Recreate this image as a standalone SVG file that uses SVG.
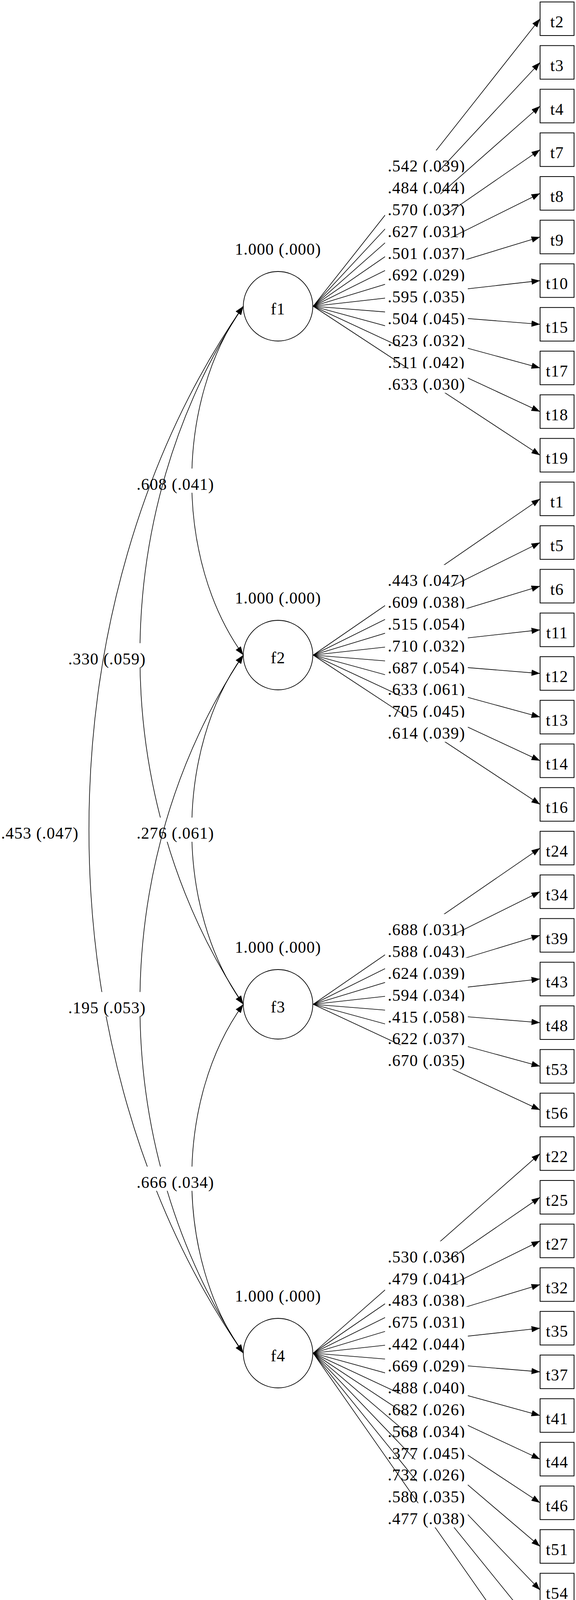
<svg xmlns="http://www.w3.org/2000/svg" width="1475" height="4342" viewBox="0 0 1475 4342">
<defs>
<marker id="ah" markerUnits="userSpaceOnUse" viewBox="0 0 22 16" markerWidth="22" markerHeight="16" refX="22" refY="8" orient="auto-start-reverse"><path d="M0,0 L22,8 L0,16 z" fill="#000"/></marker>
<style>
text{font-family:"Liberation Serif","Times New Roman",serif;font-size:42px;letter-spacing:1.2px;fill:#000;text-anchor:middle}
.e{stroke:#000;stroke-width:1.6;fill:none;marker-end:url(#ah)}
.c{stroke:#000;stroke-width:1.6;fill:none;marker-start:url(#ah);marker-end:url(#ah)}
.lb{fill:#fff;stroke:none}
.bx{fill:#fff;stroke:#000;stroke-width:2}
.nd{fill:#fff;stroke:#000;stroke-width:1.8}
</style>
</defs>
<rect width="1475" height="4342" fill="#fff"/>
<g id="connectors">
<line class="e" x1="802" y1="784" x2="1383" y2="48.0"/><rect class="lb" x="986" y="385.0" width="212" height="62"/><text x="1092" y="439.0">.542 (.039)</text>
<line class="e" x1="802" y1="784" x2="1383" y2="159.7"/><rect class="lb" x="986" y="440.9" width="212" height="62"/><text x="1092" y="494.9">.484 (.044)</text>
<line class="e" x1="802" y1="784" x2="1383" y2="271.5"/><rect class="lb" x="986" y="496.7" width="212" height="62"/><text x="1092" y="550.7">.570 (.037)</text>
<line class="e" x1="802" y1="784" x2="1383" y2="383.2"/><rect class="lb" x="986" y="552.6" width="212" height="62"/><text x="1092" y="606.6">.627 (.031)</text>
<line class="e" x1="802" y1="784" x2="1383" y2="495.0"/><rect class="lb" x="986" y="608.5" width="212" height="62"/><text x="1092" y="662.5">.501 (.037)</text>
<line class="e" x1="802" y1="784" x2="1383" y2="606.7"/><rect class="lb" x="986" y="664.4" width="212" height="62"/><text x="1092" y="718.4">.692 (.029)</text>
<line class="e" x1="802" y1="784" x2="1383" y2="718.4"/><rect class="lb" x="986" y="720.2" width="212" height="62"/><text x="1092" y="774.2">.595 (.035)</text>
<line class="e" x1="802" y1="784" x2="1383" y2="830.2"/><rect class="lb" x="986" y="776.1" width="212" height="62"/><text x="1092" y="830.1">.504 (.045)</text>
<line class="e" x1="802" y1="784" x2="1383" y2="941.9"/><rect class="lb" x="986" y="832.0" width="212" height="62"/><text x="1092" y="886.0">.623 (.032)</text>
<line class="e" x1="802" y1="784" x2="1383" y2="1053.7"/><rect class="lb" x="986" y="887.8" width="212" height="62"/><text x="1092" y="941.8">.511 (.042)</text>
<line class="e" x1="802" y1="784" x2="1383" y2="1165.4"/><rect class="lb" x="986" y="943.7" width="212" height="62"/><text x="1092" y="997.7">.633 (.030)</text>

<line class="e" x1="802" y1="1677" x2="1383" y2="1277.1"/><rect class="lb" x="986" y="1446.1" width="212" height="62"/><text x="1092" y="1500.1">.443 (.047)</text>
<line class="e" x1="802" y1="1677" x2="1383" y2="1388.9"/><rect class="lb" x="986" y="1501.9" width="212" height="62"/><text x="1092" y="1555.9">.609 (.038)</text>
<line class="e" x1="802" y1="1677" x2="1383" y2="1500.6"/><rect class="lb" x="986" y="1557.8" width="212" height="62"/><text x="1092" y="1611.8">.515 (.054)</text>
<line class="e" x1="802" y1="1677" x2="1383" y2="1612.4"/><rect class="lb" x="986" y="1613.7" width="212" height="62"/><text x="1092" y="1667.7">.710 (.032)</text>
<line class="e" x1="802" y1="1677" x2="1383" y2="1724.1"/><rect class="lb" x="986" y="1669.6" width="212" height="62"/><text x="1092" y="1723.6">.687 (.054)</text>
<line class="e" x1="802" y1="1677" x2="1383" y2="1835.8"/><rect class="lb" x="986" y="1725.4" width="212" height="62"/><text x="1092" y="1779.4">.633 (.061)</text>
<line class="e" x1="802" y1="1677" x2="1383" y2="1947.6"/><rect class="lb" x="986" y="1781.3" width="212" height="62"/><text x="1092" y="1835.3">.705 (.045)</text>
<line class="e" x1="802" y1="1677" x2="1383" y2="2059.3"/><rect class="lb" x="986" y="1837.2" width="212" height="62"/><text x="1092" y="1891.2">.614 (.039)</text>

<line class="e" x1="802" y1="2571" x2="1383" y2="2171.1"/><rect class="lb" x="986" y="2340.0" width="212" height="62"/><text x="1092" y="2394.0">.688 (.031)</text>
<line class="e" x1="802" y1="2571" x2="1383" y2="2282.8"/><rect class="lb" x="986" y="2395.9" width="212" height="62"/><text x="1092" y="2449.9">.588 (.043)</text>
<line class="e" x1="802" y1="2571" x2="1383" y2="2394.5"/><rect class="lb" x="986" y="2451.8" width="212" height="62"/><text x="1092" y="2505.8">.624 (.039)</text>
<line class="e" x1="802" y1="2571" x2="1383" y2="2506.3"/><rect class="lb" x="986" y="2507.6" width="212" height="62"/><text x="1092" y="2561.6">.594 (.034)</text>
<line class="e" x1="802" y1="2571" x2="1383" y2="2618.0"/><rect class="lb" x="986" y="2563.5" width="212" height="62"/><text x="1092" y="2617.5">.415 (.058)</text>
<line class="e" x1="802" y1="2571" x2="1383" y2="2729.8"/><rect class="lb" x="986" y="2619.4" width="212" height="62"/><text x="1092" y="2673.4">.622 (.037)</text>
<line class="e" x1="802" y1="2571" x2="1383" y2="2841.5"/><rect class="lb" x="986" y="2675.3" width="212" height="62"/><text x="1092" y="2729.3">.670 (.035)</text>

<line class="e" x1="802" y1="3464" x2="1383" y2="2953.2"/><rect class="lb" x="986" y="3177.6" width="212" height="62"/><text x="1092" y="3231.6">.530 (.036)</text>
<line class="e" x1="802" y1="3464" x2="1383" y2="3065.0"/><rect class="lb" x="986" y="3233.5" width="212" height="62"/><text x="1092" y="3287.5">.479 (.041)</text>
<line class="e" x1="802" y1="3464" x2="1383" y2="3176.7"/><rect class="lb" x="986" y="3289.4" width="212" height="62"/><text x="1092" y="3343.4">.483 (.038)</text>
<line class="e" x1="802" y1="3464" x2="1383" y2="3288.5"/><rect class="lb" x="986" y="3345.2" width="212" height="62"/><text x="1092" y="3399.2">.675 (.031)</text>
<line class="e" x1="802" y1="3464" x2="1383" y2="3400.2"/><rect class="lb" x="986" y="3401.1" width="212" height="62"/><text x="1092" y="3455.1">.442 (.044)</text>
<line class="e" x1="802" y1="3464" x2="1383" y2="3511.9"/><rect class="lb" x="986" y="3457.0" width="212" height="62"/><text x="1092" y="3511.0">.669 (.029)</text>
<line class="e" x1="802" y1="3464" x2="1383" y2="3623.7"/><rect class="lb" x="986" y="3512.8" width="212" height="62"/><text x="1092" y="3566.8">.488 (.040)</text>
<line class="e" x1="802" y1="3464" x2="1383" y2="3735.4"/><rect class="lb" x="986" y="3568.7" width="212" height="62"/><text x="1092" y="3622.7">.682 (.026)</text>
<line class="e" x1="802" y1="3464" x2="1383" y2="3847.2"/><rect class="lb" x="986" y="3624.6" width="212" height="62"/><text x="1092" y="3678.6">.568 (.034)</text>
<line class="e" x1="802" y1="3464" x2="1383" y2="3958.9"/><rect class="lb" x="986" y="3680.5" width="212" height="62"/><text x="1092" y="3734.5">.377 (.045)</text>
<line class="e" x1="802" y1="3464" x2="1383" y2="4070.6"/><rect class="lb" x="986" y="3736.3" width="212" height="62"/><text x="1092" y="3790.3">.732 (.026)</text>
<line class="e" x1="802" y1="3464" x2="1383" y2="4182.4"/><rect class="lb" x="986" y="3792.2" width="212" height="62"/><text x="1092" y="3846.2">.580 (.035)</text>
<line class="e" x1="802" y1="3464" x2="1383" y2="4294.1"/><rect class="lb" x="986" y="3848.1" width="212" height="62"/><text x="1092" y="3902.1">.477 (.038)</text>

<path class="c" d="M623,784 C447,1027 447,1434 623,1677"/><rect class="lb" x="343" y="1199.5" width="212" height="62"/><text x="449" y="1253.5">.608 (.041)</text>
<path class="c" d="M623,784 C270,1313 270,2042 623,2571"/><rect class="lb" x="168" y="1646.5" width="212" height="62"/><text x="274" y="1700.5">.330 (.059)</text>
<path class="c" d="M623,784 C96,1543 96,2705 623,3464"/><rect class="lb" x="0" y="2093" width="208" height="62"/><text x="102" y="2147">.453 (.047)</text>
<path class="c" d="M623,1677 C447,1920 447,2328 623,2571"/><rect class="lb" x="343" y="2093" width="212" height="62"/><text x="449" y="2147">.276 (.061)</text>
<path class="c" d="M623,1677 C270,2206 270,2935 623,3464"/><rect class="lb" x="168" y="2539.5" width="212" height="62"/><text x="274" y="2593.5">.195 (.053)</text>
<path class="c" d="M623,2571 C447,2814 447,3221 623,3464"/><rect class="lb" x="343" y="2986.5" width="212" height="62"/><text x="449" y="3040.5">.666 (.034)</text>
</g>
<g id="f1"><circle class="nd" cx="712" cy="784" r="89"/><text x="712" y="805">f1</text><text x="712" y="652">1.000 (.000)</text></g>
<g id="f2"><circle class="nd" cx="712" cy="1677" r="89"/><text x="712" y="1698">f2</text><text x="712" y="1545">1.000 (.000)</text></g>
<g id="f3"><circle class="nd" cx="712" cy="2571" r="89"/><text x="712" y="2592">f3</text><text x="712" y="2439">1.000 (.000)</text></g>
<g id="f4"><circle class="nd" cx="712" cy="3464" r="89"/><text x="712" y="3485">f4</text><text x="712" y="3332">1.000 (.000)</text></g>
<g id="t2"><rect class="bx" x="1383" y="5.0" width="87" height="86"/><text x="1426.5" y="70.0">t2</text></g>
<g id="t3"><rect class="bx" x="1383" y="116.7" width="87" height="86"/><text x="1426.5" y="181.7">t3</text></g>
<g id="t4"><rect class="bx" x="1383" y="228.5" width="87" height="86"/><text x="1426.5" y="293.5">t4</text></g>
<g id="t7"><rect class="bx" x="1383" y="340.2" width="87" height="86"/><text x="1426.5" y="405.2">t7</text></g>
<g id="t8"><rect class="bx" x="1383" y="452.0" width="87" height="86"/><text x="1426.5" y="517.0">t8</text></g>
<g id="t9"><rect class="bx" x="1383" y="563.7" width="87" height="86"/><text x="1426.5" y="628.7">t9</text></g>
<g id="t10"><rect class="bx" x="1383" y="675.4" width="87" height="86"/><text x="1426.5" y="740.4">t10</text></g>
<g id="t15"><rect class="bx" x="1383" y="787.2" width="87" height="86"/><text x="1426.5" y="852.2">t15</text></g>
<g id="t17"><rect class="bx" x="1383" y="898.9" width="87" height="86"/><text x="1426.5" y="963.9">t17</text></g>
<g id="t18"><rect class="bx" x="1383" y="1010.7" width="87" height="86"/><text x="1426.5" y="1075.7">t18</text></g>
<g id="t19"><rect class="bx" x="1383" y="1122.4" width="87" height="86"/><text x="1426.5" y="1187.4">t19</text></g>
<g id="t1"><rect class="bx" x="1383" y="1234.1" width="87" height="86"/><text x="1426.5" y="1299.1">t1</text></g>
<g id="t5"><rect class="bx" x="1383" y="1345.9" width="87" height="86"/><text x="1426.5" y="1410.9">t5</text></g>
<g id="t6"><rect class="bx" x="1383" y="1457.6" width="87" height="86"/><text x="1426.5" y="1522.6">t6</text></g>
<g id="t11"><rect class="bx" x="1383" y="1569.4" width="87" height="86"/><text x="1426.5" y="1634.4">t11</text></g>
<g id="t12"><rect class="bx" x="1383" y="1681.1" width="87" height="86"/><text x="1426.5" y="1746.1">t12</text></g>
<g id="t13"><rect class="bx" x="1383" y="1792.8" width="87" height="86"/><text x="1426.5" y="1857.8">t13</text></g>
<g id="t14"><rect class="bx" x="1383" y="1904.6" width="87" height="86"/><text x="1426.5" y="1969.6">t14</text></g>
<g id="t16"><rect class="bx" x="1383" y="2016.3" width="87" height="86"/><text x="1426.5" y="2081.3">t16</text></g>
<g id="t24"><rect class="bx" x="1383" y="2128.1" width="87" height="86"/><text x="1426.5" y="2193.1">t24</text></g>
<g id="t34"><rect class="bx" x="1383" y="2239.8" width="87" height="86"/><text x="1426.5" y="2304.8">t34</text></g>
<g id="t39"><rect class="bx" x="1383" y="2351.5" width="87" height="86"/><text x="1426.5" y="2416.5">t39</text></g>
<g id="t43"><rect class="bx" x="1383" y="2463.3" width="87" height="86"/><text x="1426.5" y="2528.3">t43</text></g>
<g id="t48"><rect class="bx" x="1383" y="2575.0" width="87" height="86"/><text x="1426.5" y="2640.0">t48</text></g>
<g id="t53"><rect class="bx" x="1383" y="2686.8" width="87" height="86"/><text x="1426.5" y="2751.8">t53</text></g>
<g id="t56"><rect class="bx" x="1383" y="2798.5" width="87" height="86"/><text x="1426.5" y="2863.5">t56</text></g>
<g id="t22"><rect class="bx" x="1383" y="2910.2" width="87" height="86"/><text x="1426.5" y="2975.2">t22</text></g>
<g id="t25"><rect class="bx" x="1383" y="3022.0" width="87" height="86"/><text x="1426.5" y="3087.0">t25</text></g>
<g id="t27"><rect class="bx" x="1383" y="3133.7" width="87" height="86"/><text x="1426.5" y="3198.7">t27</text></g>
<g id="t32"><rect class="bx" x="1383" y="3245.5" width="87" height="86"/><text x="1426.5" y="3310.5">t32</text></g>
<g id="t35"><rect class="bx" x="1383" y="3357.2" width="87" height="86"/><text x="1426.5" y="3422.2">t35</text></g>
<g id="t37"><rect class="bx" x="1383" y="3468.9" width="87" height="86"/><text x="1426.5" y="3533.9">t37</text></g>
<g id="t41"><rect class="bx" x="1383" y="3580.7" width="87" height="86"/><text x="1426.5" y="3645.7">t41</text></g>
<g id="t44"><rect class="bx" x="1383" y="3692.4" width="87" height="86"/><text x="1426.5" y="3757.4">t44</text></g>
<g id="t46"><rect class="bx" x="1383" y="3804.2" width="87" height="86"/><text x="1426.5" y="3869.2">t46</text></g>
<g id="t51"><rect class="bx" x="1383" y="3915.9" width="87" height="86"/><text x="1426.5" y="3980.9">t51</text></g>
<g id="t54"><rect class="bx" x="1383" y="4027.6" width="87" height="86"/><text x="1426.5" y="4092.6">t54</text></g>
<g id="t57"><rect class="bx" x="1383" y="4139.4" width="87" height="86"/><text x="1426.5" y="4204.4">t57</text></g>
<g id="t60"><rect class="bx" x="1383" y="4251.1" width="87" height="86"/><text x="1426.5" y="4316.1">t60</text></g>
</svg>
